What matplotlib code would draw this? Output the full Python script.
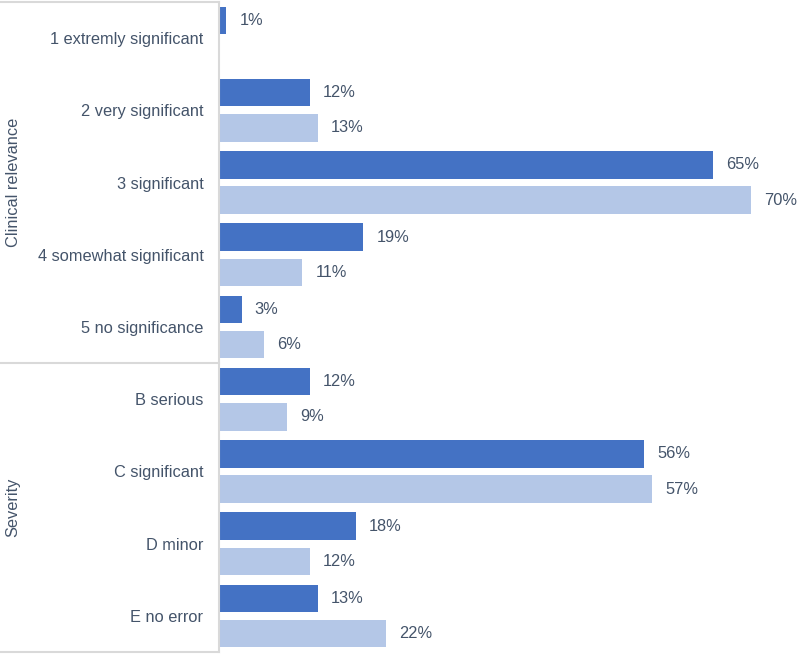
import matplotlib
matplotlib.use("Agg")
import matplotlib.pyplot as plt
import numpy as np

# category labels, top to bottom
categories = [
    "1 extremly significant",
    "2 very significant",
    "3 significant",
    "4 somewhat significant",
    "5 no significance",
    "B serious",
    "C significant",
    "D minor",
    "E no error",
]
groups = ["Clinical relevance", "Severity"]
group_sizes = [5, 4]

# two series, in percent (first category has no second bar)
series_dark = [1, 12, 65, 19, 3, 12, 56, 18, 13]
series_light = [np.nan, 13, 70, 11, 6, 9, 57, 12, 22]

DARK = "#4472C4"
LIGHT = "#B4C7E7"
TEXT = "#44546A"
LINE = "#D9D9D9"
FS = 11.8

plt.rcParams["font.family"] = ["Liberation Sans", "DejaVu Sans"]

W, H = 797, 654
fig = plt.figure(figsize=(W / 100, H / 100), dpi=100)
left_px, top_px, bottom_px = 218.7, 2, 652
ax = fig.add_axes([left_px / W, 1 - bottom_px / H, 1 - left_px / W, (bottom_px - top_px) / H])

y = np.arange(len(categories))
bh = 0.38
off = 0.244
ax.barh(y - off, series_dark, height=bh, color=DARK)
ax.barh(y + off, series_light, height=bh, color=LIGHT)

for yy, v in zip(y - off, series_dark):
    if not np.isnan(v):
        ax.annotate(f"{v:g}%", (v, yy), xytext=(9.5, 0), textcoords="offset points",
                    va="center", ha="left", fontsize=FS, color=TEXT)
for yy, v in zip(y + off, series_light):
    if not np.isnan(v):
        ax.annotate(f"{v:g}%", (v, yy), xytext=(9.5, 0), textcoords="offset points",
                    va="center", ha="left", fontsize=FS, color=TEXT)

ax.set_xlim(0, (W - left_px) / 7.6)
ax.set_ylim(len(categories) - 0.5, -0.5)
ax.set_yticks(y)
ax.set_yticklabels(categories, fontsize=FS, color=TEXT)
ax.tick_params(axis="y", length=0, pad=11)
ax.set_xticks([])
for s in ["top", "right", "bottom"]:
    ax.spines[s].set_visible(False)
ax.spines["left"].set_color(LINE)
ax.spines["left"].set_linewidth(1.5)

# box around the group label area
x0 = -left_px / (W - left_px)
tr = ax.get_yaxis_transform()
bounds = [-0.5]
start = -0.5
for n in group_sizes:
    start += n
    bounds.append(start)
for b in bounds:
    ax.plot([x0, 0], [b, b], transform=tr, color=LINE, lw=1.5, clip_on=False)

# group labels
start = 0
for g, n in zip(groups, group_sizes):
    center = start + (n - 1) / 2
    ax.text(x0 + 13 / (W - left_px), center, g, transform=tr, rotation=90,
            ha="center", va="center", fontsize=FS, color=TEXT)
    start += n

fig.savefig("out.png", dpi=100)
